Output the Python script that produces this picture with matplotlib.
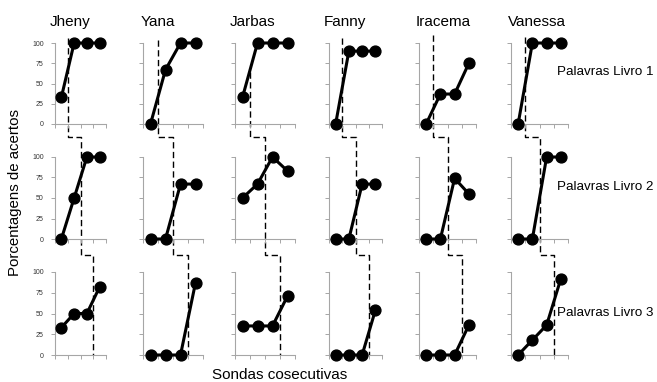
import matplotlib.pyplot as plt
from matplotlib.lines import Line2D

plt.rcParams['font.family'] = ['Liberation Sans', 'DejaVu Sans']

# dados (porcentagem de acertos por sonda)
nomes = ['Jheny', 'Yana', 'Jarbas', 'Fanny', 'Iracema', 'Vanessa']
livros = ['Palavras Livro 1', 'Palavras Livro 2', 'Palavras Livro 3']
sondas = [0.5, 1.5, 2.5, 3.5]

livro1 = [[33, 100, 100, 100], [0, 67, 100, 100], [33, 100, 100, 100],
          [0, 90, 90, 90], [0, 37, 37, 75], [0, 100, 100, 100]]
livro2 = [[0, 50, 100, 100], [0, 0, 67, 67], [50, 67, 100, 83],
          [0, 0, 67, 67], [0, 0, 74, 55], [0, 0, 100, 100]]
livro3 = [[33, 50, 50, 82], [0, 0, 0, 87], [35, 35, 35, 71],
          [0, 0, 0, 54], [0, 0, 0, 36], [0, 18, 36, 92]]
dados = [livro1, livro2, livro3]

# mudanca de fase (depois da sonda n) em cada livro
fases = [1, 2, 3]

# layout em pixels
W, H = 657, 382
cols_x = [(55, 106), (143, 203), (235, 295), (329, 382), (419, 476), (511, 568)]
rows_y = [(43, 124), (157, 239), (272, 355)]   # (y de 100, y de 0)
titulo_x = [70, 158, 253, 345, 443, 537]
topo_tracejado = [38, 40, 72, 38, 35, 37]
degraus = [137, 255]

fig = plt.figure(figsize=(W / 100, H / 100), dpi=100)

def fx(x):
    return x / W

def fy(y):
    return 1 - y / H

cinza = '#a6a6a6'
for r in range(3):
    for c in range(6):
        x0, x1 = cols_x[c]
        y100, y0 = rows_y[r]
        ax = fig.add_axes([fx(x0), fy(y0), (x1 - x0) / W, (y0 - y100) / H])
        ax.patch.set_alpha(0)
        ax.plot(sondas, dados[r][c], color='black', lw=2.2, marker='o',
                ms=7.8, clip_on=False, zorder=5)
        ax.set_xlim(0, 4)
        ax.set_ylim(0, 100)
        ax.set_xticks([0, 1, 2, 3, 4])
        ax.set_xticklabels([])
        ax.set_yticks([0, 25, 50, 75, 100])
        if c > 0:
            ax.set_yticklabels([])
        ax.tick_params(colors=cinza, length=3, width=0.7, labelsize=5,
                       labelcolor='#333333', pad=5)
        ax.spines['top'].set_visible(False)
        ax.spines['right'].set_visible(False)
        ax.spines['left'].set_color(cinza)
        ax.spines['bottom'].set_color(cinza)
        ax.spines['left'].set_linewidth(0.8)
        ax.spines['bottom'].set_linewidth(0.8)

# linhas tracejadas de mudanca de fase
for c in range(6):
    x0, x1 = cols_x[c]
    xs = [x0 + f * (x1 - x0) / 4 for f in fases]
    px = [xs[0], xs[0], xs[1], xs[1], xs[2], xs[2]]
    py = [topo_tracejado[c], degraus[0], degraus[0], degraus[1], degraus[1], rows_y[2][1]]
    linha = Line2D([fx(v) for v in px], [fy(v) for v in py], transform=fig.transFigure,
                   color='black', lw=1.0, linestyle=(0, (4.5, 2.5)), zorder=-1)
    fig.add_artist(linha)

for c, nome in enumerate(nomes):
    fig.text(fx(titulo_x[c]), fy(22), nome, ha='center', va='center', fontsize=11)

for r, livro in enumerate(livros):
    fig.text(fx(557), fy([72, 187, 313][r]), livro, ha='left', va='center', fontsize=9.6)

fig.text(fx(15), fy(193), 'Porcentagens de acertos', rotation=90,
         ha='center', va='center', fontsize=10.8)
fig.text(fx(280), fy(375), 'Sondas cosecutivas', ha='center', va='center', fontsize=11)

fig.savefig('out.png', dpi=100)
